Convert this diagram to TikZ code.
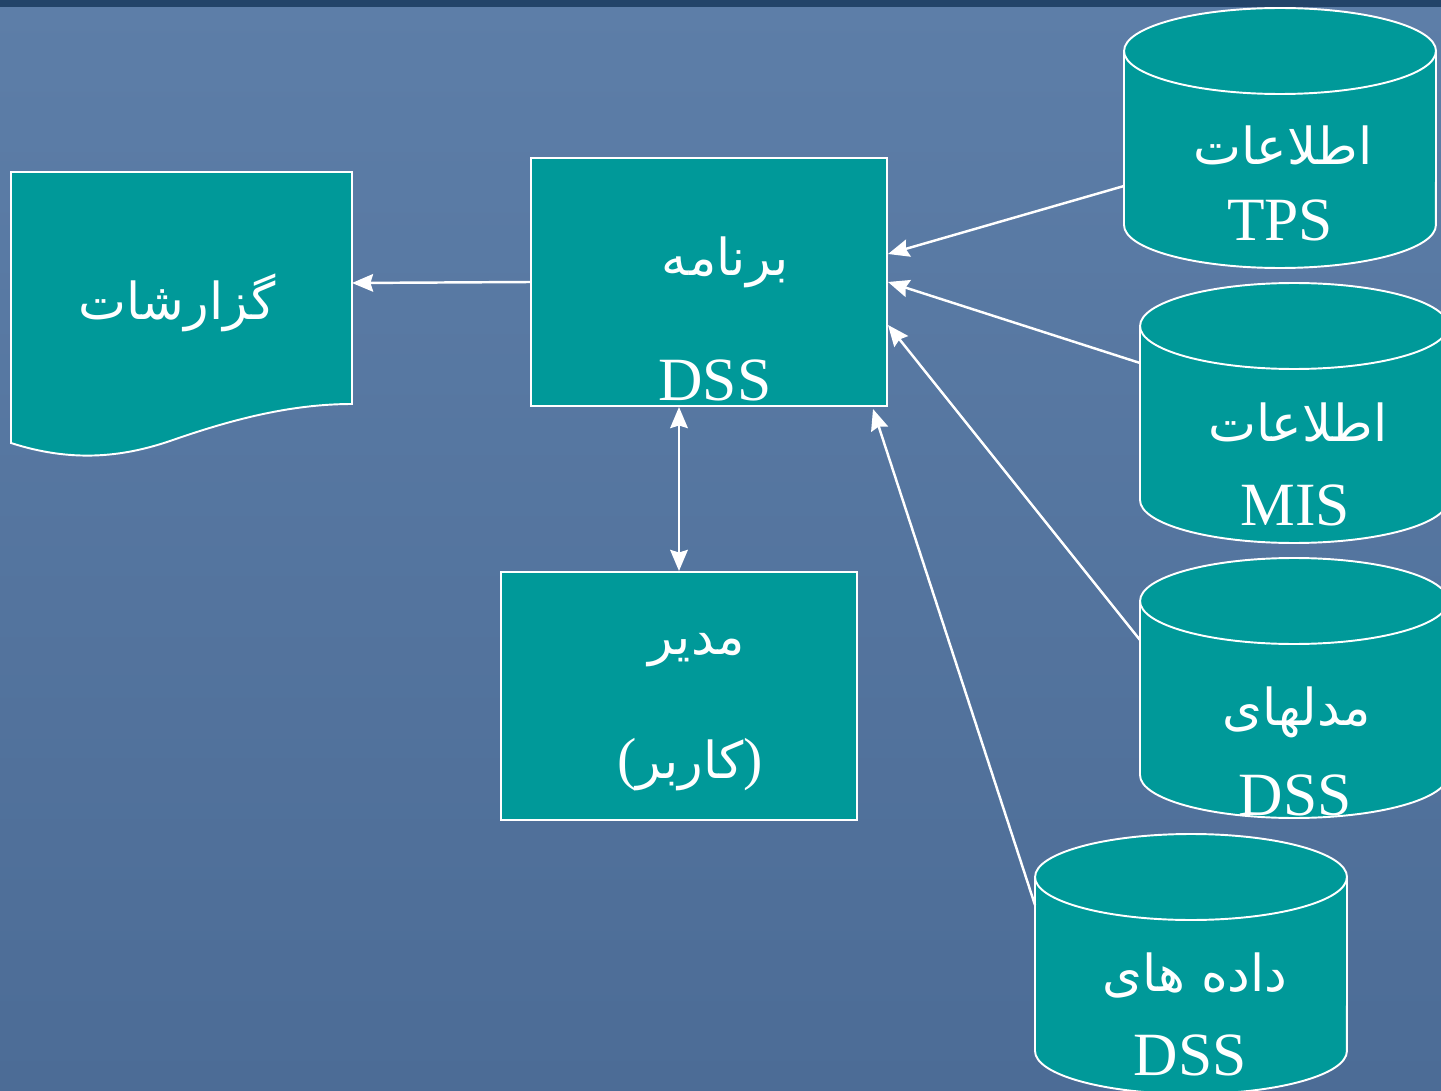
\documentclass[tikz,border=0pt]{standalone}
\usepackage{fontspec}
\setmainfont{Liberation Serif}
\newfontfamily\arfont[Script=Arabic]{DejaVu Sans}
\TeXXeTstate=1
\usetikzlibrary{arrows.meta,calc}
\definecolor{bgtop}{HTML}{5D7EA8}
\definecolor{bgbot}{HTML}{4C6C96}
\definecolor{barc}{HTML}{234469}
\definecolor{tealf}{HTML}{009999}
\tikzset{
  box/.style={draw=white, line width=1.2pt, fill=tealf, inner sep=0pt,
    minimum width=7.12cm, minimum height=4.96cm},
  shapest/.style={draw=white, line width=1.1pt, fill=tealf},
  cylline/.style={draw=white, line width=1.1pt},
  artxt/.style={text=white, inner sep=0pt, font=\arfont\fontsize{29}{35}\selectfont},
  latxt/.style={text=white, inner sep=0pt, font=\fontsize{35}{40}\selectfont},
  tip/.tip={Stealth[length=12pt,width=10pt,inset=1.5pt]},
  conn/.style={draw=white, line width=1.4pt, -tip},
  biconn/.style={draw=white, line width=1.4pt, tip-tip}
}
\begin{document}
\begin{tikzpicture}[x=0.02cm,y=0.02cm]
\useasboundingbox (0,0) rectangle (1441,-1091);
\clip (0,0) rectangle (1441,-1091);
% background
\fill[top color=bgtop, bottom color=bgbot] (0,0) rectangle (1441,-1091);
\fill[barc] (0,0) rectangle (1441,-7);

% report document shape
\filldraw[shapest] (11,-172) -- (352,-172) -- (352,-404)
  .. controls (290,-404) and (230,-420) .. (170,-441)
  .. controls (120,-458) and (70,-462) .. (11,-443) -- cycle;
\coordinate (rep) at (352,-283);
\node[artxt] (reptxt) at (177,-303) {\beginR گزارشات\endR};

% boxes
\node[box] (prog) at (709,-282) {};
\node[artxt] (progt1) at (725,-262) {\beginR برنامه\endR};
\node[latxt] (progt2) at (715,-380) {DSS};

\node[box] (mgr) at (679,-696) {};
\node[artxt] (mgrt1) at (697,-650) {\beginR مدیر\endR};
\node[artxt] (mgrt2) at (690,-765) {{\normalfont\fontsize{33}{38}\selectfont(}\beginR کاربر\endR{\normalfont\fontsize{33}{38}\selectfont)}};

% cylinder TPS
\filldraw[shapest] (1124,-51) -- (1124,-225) arc[start angle=180,end angle=360,x radius=3.12cm,y radius=0.86cm]
  -- (1436,-51) arc[start angle=0,end angle=180,x radius=3.12cm,y radius=0.86cm] -- cycle;
\draw[cylline] (1124,-51) arc[start angle=180,end angle=360,x radius=3.12cm,y radius=0.86cm];
\node[artxt] (tpst1) at (1283,-145) {\beginR اطلاعات\endR};
\node[latxt] (tpst2) at (1280,-220) {TPS};
\coordinate (tpsL) at (1124,-186);

% cylinder MIS
\filldraw[shapest] (1140,-326) -- (1140,-500) arc[start angle=180,end angle=360,x radius=3.08cm,y radius=0.86cm]
  -- (1448,-326) arc[start angle=0,end angle=180,x radius=3.08cm,y radius=0.86cm] -- cycle;
\draw[cylline] (1140,-326) arc[start angle=180,end angle=360,x radius=3.08cm,y radius=0.86cm];
\node[artxt] (mist1) at (1298,-422) {\beginR اطلاعات\endR};
\node[latxt] (mist2) at (1295,-505) {MIS};
\coordinate (misL) at (1140,-363);

% cylinder models
\filldraw[shapest] (1140,-601) -- (1140,-775) arc[start angle=180,end angle=360,x radius=3.08cm,y radius=0.86cm]
  -- (1448,-601) arc[start angle=0,end angle=180,x radius=3.08cm,y radius=0.86cm] -- cycle;
\draw[cylline] (1140,-601) arc[start angle=180,end angle=360,x radius=3.08cm,y radius=0.86cm];
\node[artxt] (modt1) at (1297,-712) {\beginR مدلهای\endR};
\node[latxt] (modt2) at (1295,-795) {DSS};
\coordinate (modL) at (1140,-640);

% cylinder data
\filldraw[shapest] (1035,-877) -- (1035,-1051) arc[start angle=180,end angle=360,x radius=3.12cm,y radius=0.86cm]
  -- (1347,-877) arc[start angle=0,end angle=180,x radius=3.12cm,y radius=0.86cm] -- cycle;
\draw[cylline] (1035,-877) arc[start angle=180,end angle=360,x radius=3.12cm,y radius=0.86cm];
\node[artxt] (datt1) at (1195,-975) {\beginR داده های\endR};
\node[latxt] (datt2) at (1190,-1055) {DSS};
\coordinate (datL) at (1035,-905);

% connectors
\draw[conn] (prog.west) -- (rep);
\draw[biconn] ($(prog.south)+(-30,0)$) -- ($(mgr.north)$);
\draw[conn] (tpsL) -- ($(prog.east)+(0,28)$);
\draw[conn] (misL) -- (prog.east);
\draw[conn] (modL) -- ($(prog.east)+(0,-43)$);
\draw[conn] (datL) -- ($(prog.south east)+(-15,-2)$);
\end{tikzpicture}
\end{document}
